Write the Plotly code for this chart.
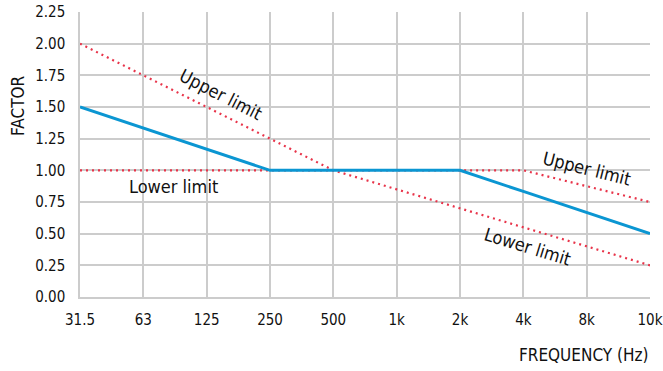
import plotly.graph_objects as go

frequencies = ["31.5", "63", "125", "250", "500", "1k", "2k", "4k", "8k", "10k"]
factor = [1.5, 1.3333, 1.1667, 1.0, 1.0, 1.0, 1.0, 0.8333, 0.6667, 0.5]
upper_limit = [2.0, 1.75, 1.5, 1.25, 1.0, 1.0, 1.0, 1.0, 0.875, 0.75]
lower_limit = [1.0, 1.0, 1.0, 1.0, 1.0, 0.85, 0.7, 0.55, 0.4, 0.25]
y_ticks = [0, 0.25, 0.5, 0.75, 1.0, 1.25, 1.5, 1.75, 2.0, 2.25]

FONT = "DejaVu Sans Condensed, Roboto, sans-serif"
RED = "#e8344a"
BLUE = "#0b96d2"
GRID = "#cccccc"

xi = list(range(len(frequencies)))

fig = go.Figure()
fig.add_trace(go.Scatter(x=xi, y=upper_limit, mode="lines",
                         line=dict(color=RED, width=2.2, dash="2px,4px"), hoverinfo="skip"))
fig.add_trace(go.Scatter(x=xi, y=lower_limit, mode="lines",
                         line=dict(color=RED, width=2.2, dash="2px,4px"), hoverinfo="skip"))
fig.add_trace(go.Scatter(x=xi, y=factor, mode="lines",
                         line=dict(color=BLUE, width=3), hoverinfo="skip"))

ann_font = dict(family=FONT, size=18, color="#111111")
annotations = [
    dict(x=2.23, y=1.60, text="Upper limit", textangle=27),
    dict(x=1.47, y=0.87, text="Lower limit", textangle=0),
    dict(x=8.0, y=1.018, text="Upper limit", textangle=14),
    dict(x=7.06, y=0.40, text="Lower limit", textangle=17),
]
for a in annotations:
    fig.add_annotation(xref="x", yref="y", showarrow=False, font=ann_font, **a)

fig.add_annotation(xref="paper", yref="paper", x=1.0, y=-0.2035, xanchor="right", yanchor="middle",
                   text="FREQUENCY (Hz)", showarrow=False,
                   font=dict(family=FONT, size=17, color="#111111"))
fig.add_annotation(xref="paper", yref="paper", x=-0.109, y=0.67, xanchor="center", yanchor="middle",
                   text="FACTOR", textangle=-90, showarrow=False,
                   font=dict(family=FONT, size=17, color="#111111"))

fig.update_layout(
    width=663, height=371,
    margin=dict(l=80, r=13, t=12, b=74),
    paper_bgcolor="white", plot_bgcolor="white",
    showlegend=False, hovermode=False,
    font=dict(family=FONT, size=15, color="#111111"),
)
fig.update_xaxes(
    tickmode="array", tickvals=xi, ticktext=frequencies,
    range=[0, len(frequencies) - 1], automargin=False,
    showgrid=True, gridcolor=GRID, gridwidth=1.5,
    showline=True, linecolor=GRID, linewidth=1.5,
    ticks="", ticklabelstandoff=8, zeroline=False,
    tickfont=dict(family=FONT, size=15),
)
fig.update_yaxes(
    tickmode="array", tickvals=y_ticks, ticktext=[f"{v:.2f}" for v in y_ticks],
    range=[0, 2.25], automargin=False,
    showgrid=True, gridcolor=GRID, gridwidth=1.5,
    showline=True, linecolor=GRID, linewidth=1.5,
    ticks="", ticklabelstandoff=10, zeroline=False,
    tickfont=dict(family=FONT, size=15),
)

fig.write_html("out.html", config={"displayModeBar": False},
               post_script="document.body.style.margin='0';document.body.style.overflow='hidden';")
